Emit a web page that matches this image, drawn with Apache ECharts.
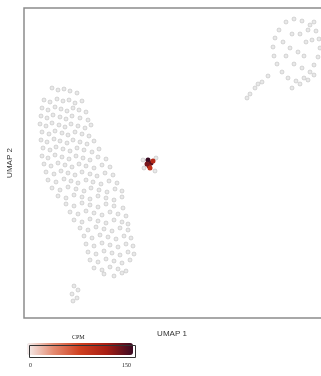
<!DOCTYPE html>
<html>
<head>
<meta charset="utf-8">
<script src="https://cdn.jsdelivr.net/npm/echarts@6/dist/echarts.min.js"></script>
<style>
  html, body { margin: 0; padding: 0; background: #fff; }
  #chart { width: 321px; height: 376px; }
</style>
</head>
<body>
<div id="chart"></div>
<script>
// UMAP coordinates (arbitrary units) of cells with no expression
const leftCluster = [
  [28,230],[34,228],[40,229],[46,227],[53,225],
  [20,218],[26,216],[33,219],[39,217],[45,218],[51,215],[58,217],
  [18,210],[24,208],[31,211],[37,209],[43,207],[49,210],[55,208],[62,206],
  [17,202],[23,200],[29,203],[36,201],[42,199],[48,202],[56,200],[64,198],
  [16,194],[22,192],[28,195],[35,193],[41,191],[47,194],[54,192],[61,190],[67,193],
  [18,186],[25,184],[31,187],[38,185],[44,183],[51,186],[58,184],[65,182],
  [17,178],[23,176],[30,179],[36,177],[43,175],[49,178],[56,176],[63,174],[70,177],
  [19,170],[26,168],[32,171],[39,169],[46,167],[53,170],[60,168],[68,166],[75,169],
  [18,162],[24,160],[31,163],[38,161],[45,159],[52,162],[59,160],[66,158],[74,161],[82,159],
  [20,154],[27,152],[34,155],[41,153],[48,151],[55,154],[62,152],[70,150],[78,153],[86,151],
  [22,146],[30,144],[37,147],[44,145],[51,143],[58,146],[66,144],[73,142],[81,145],[89,143],
  [24,138],[32,136],[40,139],[47,137],[54,135],[62,138],[69,136],[77,134],[85,137],[93,135],
  [28,130],[36,128],[44,131],[52,129],[60,127],[67,130],[75,128],[83,126],[91,129],[98,127],
  [34,122],[42,120],[50,123],[58,121],[66,119],[74,122],[82,120],[90,118],[98,121],
  [42,114],[50,112],[58,115],[66,113],[74,111],[82,114],[90,112],[99,110],
  [46,106],[54,104],[62,107],[70,105],[78,103],[86,106],[94,104],[102,102],
  [50,98],[58,96],[66,99],[74,97],[82,95],[90,98],[98,96],[104,94],
  [56,90],[64,88],[72,91],[80,89],[88,87],[96,90],[104,88],
  [60,82],[68,80],[76,83],[84,81],[92,79],[100,82],[107,80],
  [62,74],[70,72],[78,75],[86,73],[94,71],[102,74],[109,72],
  [64,66],[72,64],[80,67],[88,65],[96,63],[104,66],[110,64],
  [66,58],[74,56],[82,59],[90,57],[98,55],[106,58],
  [70,50],[78,48],[86,51],[94,49],[102,47],
  [80,44],[90,42],[98,45],
  [50,32],[54,28],[48,24],[53,20],[49,17]
];
const rightCluster = [
  [262,296],[270,299],[278,297],[286,293],[292,287],[295,279],[296,270],[294,261],
  [290,253],[286,246],[280,240],[272,237],[264,240],[258,246],[253,254],[250,262],
  [249,271],[251,280],[255,288],
  [268,284],[276,284],[282,276],[266,270],[274,266],[262,262],[280,262],[270,254],
  [278,250],[288,278],[284,288],[259,276],
  [290,296],[268,230],[276,234],[284,238],[290,243],
  [238,236],[231,230],[226,224],[244,242],[223,220],[234,234]
];
const midCluster = [
  [120,150],[132,160],[131,147],[119,158]
];
// cells with expression: [umap1, umap2, CPM]
const expressing = [
  [124,158,150],[127,155,140],[125,152,120],[129,157,100],[123,154,130],[126,150,90]
];
const cpmRange = [0, 150];

const chart = echarts.init(document.getElementById('chart'));

const greyDot = {
  type: 'scatter',
  symbolSize: 4,
  itemStyle: { color: '#e2e2e2', borderColor: '#b4b4b4', borderWidth: 0.6 },
  silent: true
};

chart.setOption({
  animation: false,
  textStyle: { fontFamily: 'Liberation Sans' },
  grid: {
    left: 24, top: 8, width: 310, height: 310,
    outerBoundsMode: 'none',
    show: true, borderColor: '#8c8c8c', borderWidth: 1.5
  },
  xAxis: {
    type: 'value', min: 0, max: 310,
    name: 'UMAP 1', nameLocation: 'middle', nameGap: 12,
    nameTextStyle: { fontSize: 8, color: '#333', padding: [0, 14, 0, 0] },
    axisLine: { show: false }, axisTick: { show: false },
    axisLabel: { show: false }, splitLine: { show: false }
  },
  yAxis: {
    type: 'value', min: 0, max: 310,
    name: 'UMAP 2', nameLocation: 'middle', nameGap: 10,
    nameTextStyle: { fontSize: 8, color: '#333' },
    axisLine: { show: false }, axisTick: { show: false },
    axisLabel: { show: false }, splitLine: { show: false }
  },
  visualMap: {
    type: 'continuous',
    seriesIndex: 3,
    dimension: 2,
    min: cpmRange[0], max: cpmRange[1],
    orient: 'horizontal',
    left: 27, top: 343,
    itemWidth: 12, itemHeight: 106,
    padding: 0,
    text: null,
    calculable: false,
    hoverLink: false,
    inRange: { color: ['#f6f0f0', '#e48a70', '#cf3f20', '#a81e14', '#3a0a22'] }
  },
  graphic: [
    { type: 'rect', left: 27, top: 343, shape: { width: 106, height: 12 },
      style: { fill: 'none', stroke: '#333', lineWidth: 1 }, z: 100 },
    { type: 'text', left: 72, top: 334, style: { text: 'CPM', font: '6px "Liberation Serif"', fill: '#222' } },
    { type: 'text', left: 29, top: 362, style: { text: '0', font: '6px "Liberation Serif"', fill: '#222' } },
    { type: 'text', left: 122, top: 362, style: { text: '150', font: '6px "Liberation Serif"', fill: '#222' } }
  ],
  series: [
    Object.assign({ data: leftCluster }, greyDot),
    Object.assign({ data: rightCluster }, greyDot),
    Object.assign({ data: midCluster }, greyDot),
    { type: 'scatter', symbolSize: 5, data: expressing, itemStyle: { opacity: 1 } }
  ]
});
</script>
</body>
</html>
